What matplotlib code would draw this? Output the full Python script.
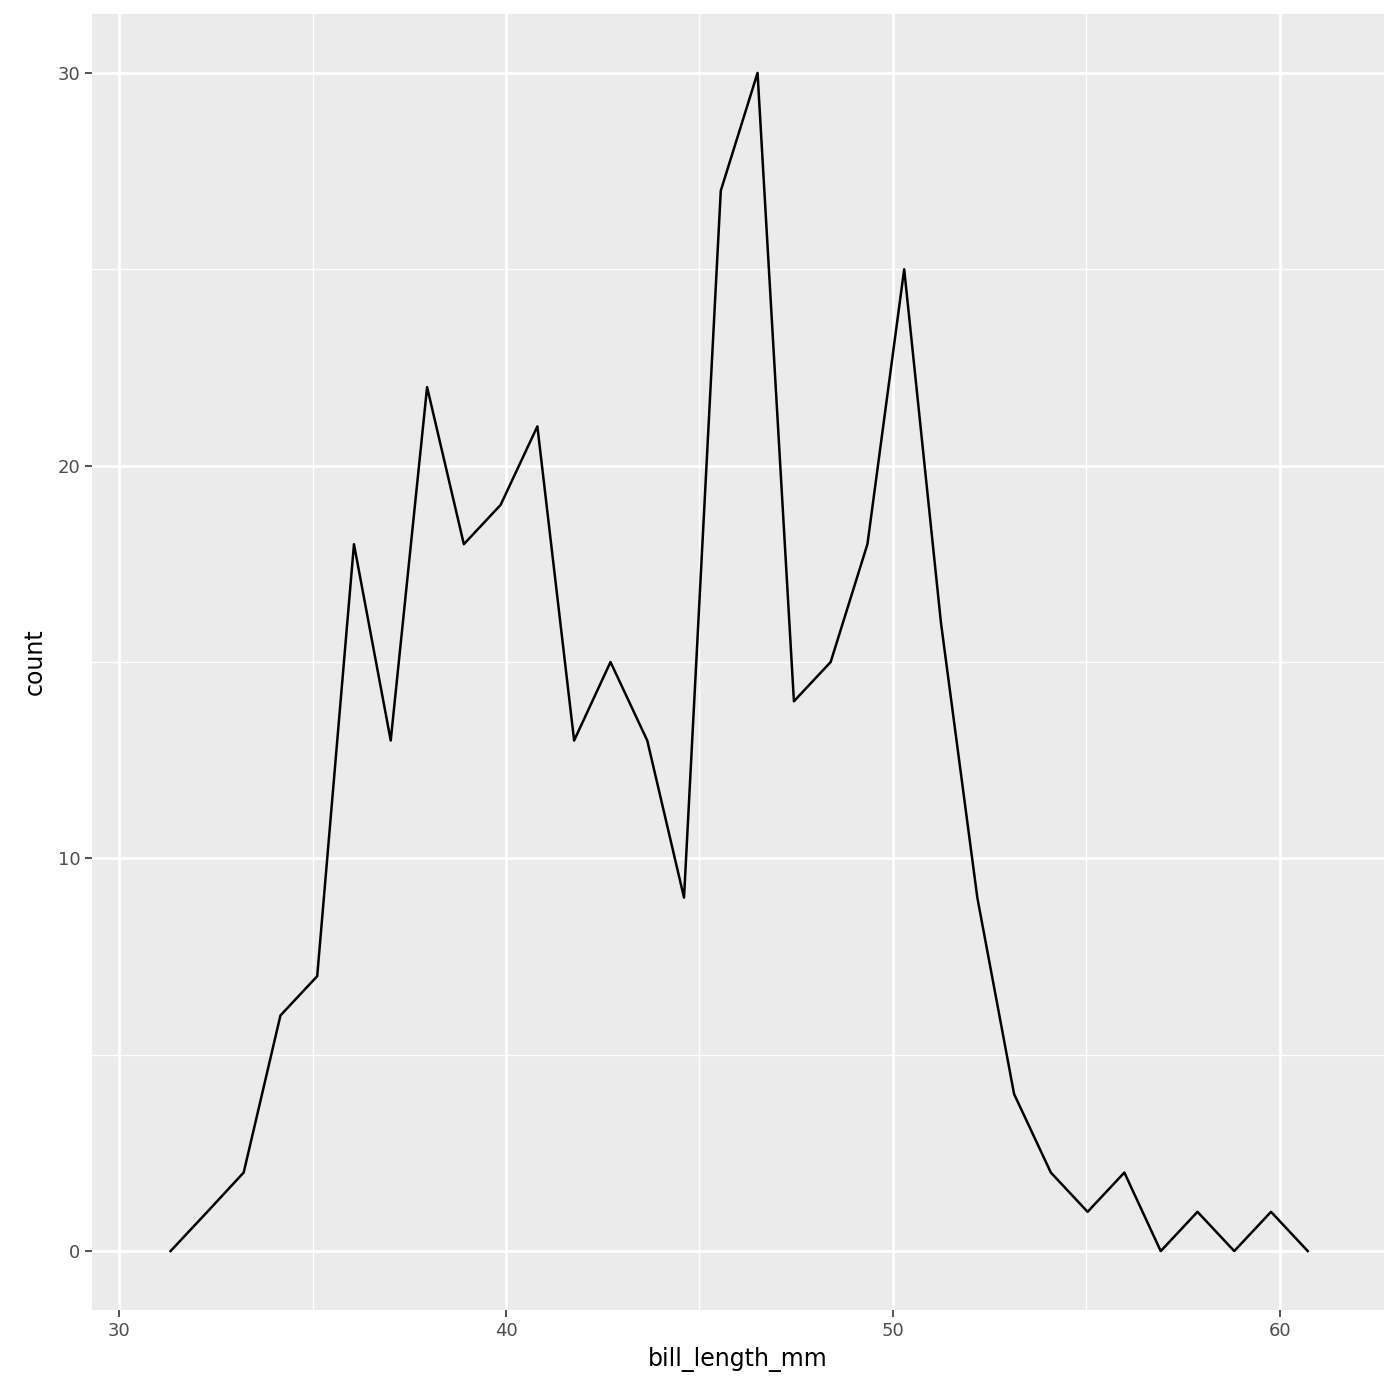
import matplotlib.pyplot as plt

# frequency polygon of bill_length_mm (30 bins)
bin_centers = [31.33, 32.28, 33.22, 34.17, 35.12, 36.07, 37.02, 37.96, 38.91, 39.86,
               40.81, 41.76, 42.70, 43.65, 44.60, 45.55, 46.50, 47.44, 48.39, 49.34,
               50.29, 51.24, 52.18, 53.13, 54.08, 55.03, 55.98, 56.92, 57.87, 58.82,
               59.77, 60.72]
counts = [0, 1, 2, 6, 7, 18, 13, 22, 18, 19, 21, 13, 15, 13, 9, 27, 30, 14, 15, 18,
          25, 16, 9, 4, 2, 1, 2, 0, 1, 0, 1, 0]
x_ticks = [30, 40, 50, 60]
x_minor = [35, 45, 55]
y_ticks = [0, 10, 20, 30]
y_minor = [5, 15, 25]


def main():
    fig = plt.figure(figsize=(14, 14), dpi=100)
    ax = fig.add_axes([92 / 1400, 1 - 1310 / 1400, (1384 - 92) / 1400, (1310 - 14) / 1400])
    ax.set_facecolor("#ebebeb")
    for s in ax.spines.values():
        s.set_visible(False)

    ax.set_xticks(x_ticks)
    ax.set_xticks(x_minor, minor=True)
    ax.set_yticks(y_ticks)
    ax.set_yticks(y_minor, minor=True)
    ax.grid(which="major", color="white", linewidth=2.0)
    ax.grid(which="minor", color="white", linewidth=1.0)
    ax.set_axisbelow(True)

    ax.plot(bin_centers, counts, color="black", linewidth=1.8)

    ax.set_xlim(29.30, 62.69)
    ax.set_ylim(-1.50, 31.50)
    ax.tick_params(which="major", length=5, width=1.2, color="#333333",
                   labelsize=13, labelcolor="#4d4d4d")
    ax.tick_params(which="minor", length=0)
    ax.set_xlabel("bill_length_mm", fontsize=17, labelpad=5)
    ax.set_ylabel("count", fontsize=17, labelpad=8)

    fig.savefig("out.png", dpi=100)


if __name__ == "__main__":
    main()
